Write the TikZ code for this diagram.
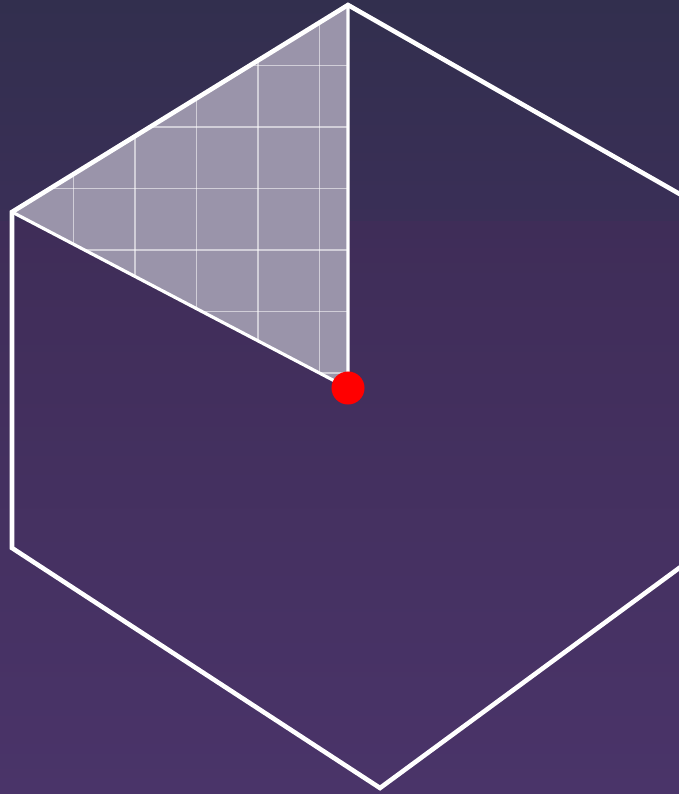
\documentclass[tikz,border=0pt]{standalone}
\usepackage{xcolor}
\definecolor{bgtop}{HTML}{322F4E}
\definecolor{bgmid}{HTML}{3A2F57}
\definecolor{bgmidb}{HTML}{3F2D58}
\definecolor{bgbot}{HTML}{4A3469}
\definecolor{wedgefill}{HTML}{9A94AA}
\tikzset{
	hexline/.style={draw=white, line width=1.3pt, line join=miter},
	gridline/.style={draw=white, opacity=0.55, line width=0.3pt},
	centredot/.style={circle, fill=red, inner sep=0pt, minimum size=0.33cm}
}

\begin{document}
\begin{tikzpicture}[x=0.01cm, y=-0.01cm]
	\useasboundingbox (0,0) rectangle (679,794);
	\shade[top color=bgtop, bottom color=bgmid] (0,0) rectangle (679,222);
	\shade[top color=bgmidb, bottom color=bgbot] (0,222) rectangle (679,794);
	\clip (0,0) rectangle (679,794);
	\coordinate (top) at (348,5);
	\coordinate (ul) at (12,212);
	\coordinate (ll) at (12,548);
	\coordinate (bot) at (380,788);
	\coordinate (lr) at (720,538);
	\coordinate (ur) at (720,217);
	\coordinate (c) at (348,388);
	% shaded wedge with grid
	\fill[wedgefill] (top) -- (ul) -- (c) -- cycle;
	\begin{scope}
		\clip (top) -- (ul) -- (c) -- cycle;
		\foreach \k in {1,...,5}
			\draw[gridline] ({12+61.5*\k},0) -- ({12+61.5*\k},400);
		\foreach \k in {1,...,6}
			\draw[gridline] (0,{4+61.5*\k}) -- (360,{4+61.5*\k});
	\end{scope}
	\draw[hexline] (top) -- (ur) -- (lr) -- (bot) -- (ll) -- (ul) -- cycle;
	\draw[hexline, line width=0.9pt] (ul) -- (c) -- (top);
	\node (dot) [centredot] at (c) {};
\end{tikzpicture}
\end{document}
